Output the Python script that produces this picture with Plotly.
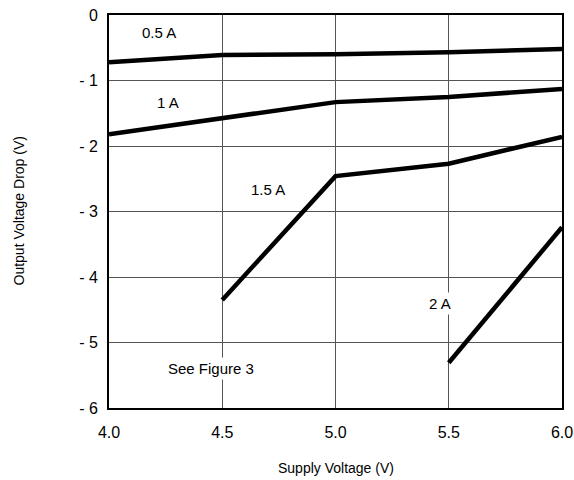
import plotly.graph_objects as go

supply_v = [4.0, 4.5, 5.0, 5.5, 6.0]
drop_05a = [-0.72, -0.61, -0.60, -0.57, -0.52]
drop_1a = [-1.82, -1.57, -1.33, -1.25, -1.13]
supply_15a = [4.5, 5.0, 5.5, 6.0]
drop_15a = [-4.35, -2.46, -2.27, -1.86]
supply_2a = [5.5, 6.0]
drop_2a = [-5.31, -3.24]

x_ticks = [4.0, 4.5, 5.0, 5.5, 6.0]
x_tick_labels = ["4.0", "4.5", "5.0", "5.5", "6.0"]
y_ticks = [0, -1, -2, -3, -4, -5, -6]
y_tick_labels = ["0", "- 1", "- 2", "- 3", "- 4", "- 5", "- 6"]

labels = ["0.5 A", "1 A", "1.5 A", "2 A", "See Figure 3"]
label_x = [4.22, 4.26, 4.70, 5.46, 4.45]
label_y = [-0.26, -1.33, -2.66, -4.41, -5.39]

fig = go.Figure()
line = dict(color="black", width=4.5)
for xs, ys in [(supply_v, drop_05a), (supply_v, drop_1a), (supply_15a, drop_15a), (supply_2a, drop_2a)]:
    fig.add_trace(go.Scatter(x=xs, y=ys, mode="lines", line=line, showlegend=False, hoverinfo="skip"))

for t, x, y in zip(labels, label_x, label_y):
    fig.add_annotation(x=x, y=y, text=t, showarrow=False, bgcolor="white",
                       font=dict(size=15, color="black"), borderpad=2)

fig.add_annotation(x=0.5, y=0, xref="paper", yref="paper", yshift=-60, text="Supply Voltage (V)",
                   showarrow=False, font=dict(size=14), xanchor="center", yanchor="middle")
fig.add_annotation(x=0, y=0.5, xref="paper", yref="paper", xshift=-91, text="Output Voltage Drop (V)",
                   showarrow=False, font=dict(size=14), textangle=-90, xanchor="center", yanchor="middle")

font = "Liberation Sans, Arial, Helvetica, sans-serif"
fig.update_layout(
    width=574, height=480,
    margin=dict(l=109, r=12, t=15, b=72, autoexpand=False),
    paper_bgcolor="white", plot_bgcolor="white",
    font=dict(family=font, size=16, color="black"),
    xaxis=dict(range=[4.0, 6.0], tickvals=x_ticks, ticktext=x_tick_labels, automargin=False,
               showgrid=True, gridcolor="#555", gridwidth=1, zeroline=False,
               showline=True, linecolor="black", linewidth=2, mirror=True,
               ticks="", ticklen=0, ticklabelstandoff=9, ticklabeloverflow="allow"),
    yaxis=dict(range=[-6, 0], tickvals=y_ticks, ticktext=y_tick_labels, automargin=False,
               showgrid=True, gridcolor="#555", gridwidth=1, zeroline=False,
               showline=True, linecolor="black", linewidth=2, mirror=True,
               ticks="", ticklen=0, ticklabelstandoff=6, ticklabeloverflow="allow"),
)
fig.write_html("out.html", config={"displayModeBar": False},
               post_script="document.body.style.margin='0';document.body.style.overflow='hidden';")
